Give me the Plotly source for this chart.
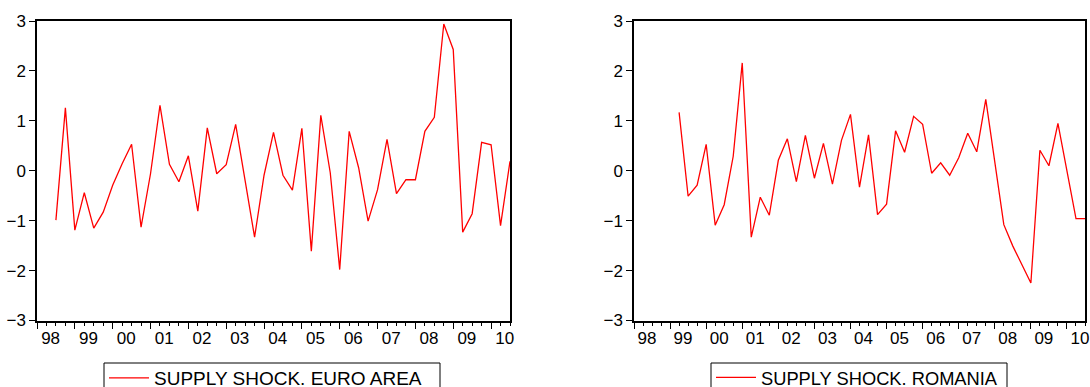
import plotly.graph_objects as go

# ---- data (quarterly) ----
euro_start = "1998Q3"
euro_values = [-0.99, 1.26, -1.19, -0.44, -1.15, -0.83, -0.29, 0.14, 0.53, -1.13,
               -0.06, 1.31, 0.13, -0.22, 0.30, -0.81, 0.86, -0.06, 0.12, 0.93,
               -0.20, -1.33, -0.09, 0.77, -0.09, -0.39, 0.85, -1.61, 1.11, -0.04,
               -1.98, 0.79, 0.06, -1.01, -0.38, 0.63, -0.46, -0.18, -0.18, 0.79,
               1.07, 2.94, 2.43, -1.23, -0.86, 0.57, 0.52, -1.10, 0.19]

romania_start = "1999Q2"
romania_values = [1.17, -0.51, -0.29, 0.53, -1.09, -0.68, 0.29, 2.16, -1.33, -0.53,
                  -0.89, 0.21, 0.64, -0.22, 0.71, -0.15, 0.55, -0.27, 0.61, 1.13,
                  -0.33, 0.72, -0.88, -0.67, 0.80, 0.37, 1.09, 0.93, -0.05, 0.16,
                  -0.09, 0.26, 0.75, 0.38, 1.43, 0.20, -1.08, -1.51, -1.88, -2.25,
                  0.41, 0.10, 0.95, -0.02, -0.96, -0.96]

years = list(range(1998, 2011))
year_labels = ["98", "99", "00", "01", "02", "03", "04", "05", "06", "07", "08", "09", "10"]
y_ticks = [-3, -2, -1, 0, 1, 2, 3]
euro_name = "SUPPLY SHOCK. EURO AREA"
romania_name = "SUPPLY SHOCK. ROMANIA"


def quarter_positions(start, n):
    y, q = int(start[:4]), int(start[-1])
    base = y + (q - 1) / 4
    return [base + i / 4 for i in range(n)]


euro_x = quarter_positions(euro_start, len(euro_values))
romania_x = quarter_positions(romania_start, len(romania_values))
quarters = [y + k / 4 for y in years for k in range(4) if y + k / 4 <= 2010.5]
X_RANGE = [1998, 2010.5]
LABEL_OFFSET = 0.36  # EViews-style label placement inside each year

W, H = 1090, 387
FONT = "Arial, Liberation Sans, sans-serif"
RED = "#ff0000"

fig = go.Figure()
fig.add_trace(go.Scatter(x=euro_x, y=euro_values, mode="lines", name=euro_name,
                         line=dict(color=RED, width=1.3), xaxis="x", yaxis="y",
                         legend="legend"))
fig.add_trace(go.Scatter(x=romania_x, y=romania_values, mode="lines", name=romania_name,
                         line=dict(color=RED, width=1.3), xaxis="x2", yaxis="y2",
                         legend="legend2"))
# invisible carriers so the label axes are drawn
fig.add_trace(go.Scatter(x=euro_x, y=euro_values, mode="lines", opacity=0,
                         showlegend=False, hoverinfo="skip", xaxis="x3", yaxis="y"))
fig.add_trace(go.Scatter(x=romania_x, y=romania_values, mode="lines", opacity=0,
                         showlegend=False, hoverinfo="skip", xaxis="x4", yaxis="y2"))

y_dom = [1 - 320.5 / H, 1 - 21 / H]
left_dom = [37 / W, 510 / W]
right_dom = [634 / W, 1085 / W]

tickfont = dict(family=FONT, size=17, color="black")


def tick_axis(domain, anchor):
    return dict(domain=domain, anchor=anchor, range=X_RANGE,
                tickmode="array", tickvals=years, showticklabels=False,
                ticks="outside", ticklen=7, tickwidth=1, tickcolor="black",
                minor=dict(tickmode="array", tickvals=quarters, ticks="outside",
                           ticklen=4, tickwidth=1, tickcolor="black"),
                showline=True, linecolor="black", linewidth=1.5, mirror=True,
                showgrid=False, zeroline=False, fixedrange=True)


def label_axis(over, anchor):
    return dict(overlaying=over, anchor=anchor, range=X_RANGE,
                tickmode="array", tickvals=[y + LABEL_OFFSET for y in years],
                ticktext=year_labels, ticks="outside", ticklen=2,
                tickcolor="rgba(0,0,0,0)", ticklabeloverflow="allow",
                tickfont=tickfont, showline=False, showgrid=False, zeroline=False,
                side="bottom", fixedrange=True)


def y_axis(anchor):
    return dict(domain=y_dom, anchor=anchor, range=[-3, 3], tickmode="array",
                tickvals=y_ticks, ticks="outside", ticklen=6, tickwidth=1,
                tickcolor="black", tickfont=tickfont, showline=True, linecolor="black",
                linewidth=1.5, mirror=True, showgrid=False, zeroline=False,
                fixedrange=True)


legend_common = dict(orientation="h", xanchor="left", yanchor="top",
                     borderwidth=0, bgcolor="rgba(0,0,0,0)", itemwidth=40)

box_top = 1 - 363 / H
legend_boxes = [
    dict(type="rect", xref="paper", yref="paper", x0=104 / W, x1=440 / W,
         y0=box_top, y1=-0.2, line=dict(color="black", width=1), layer="below"),
    dict(type="rect", xref="paper", yref="paper", x0=711 / W, x1=1007 / W,
         y0=box_top, y1=-0.2, line=dict(color="black", width=1), layer="below"),
]

fig.update_layout(
    width=W, height=H,
    margin=dict(l=0, r=0, t=0, b=0, autoexpand=False),
    paper_bgcolor="white", plot_bgcolor="white",
    xaxis=tick_axis(left_dom, "y"),
    xaxis2=tick_axis(right_dom, "y2"),
    xaxis3=label_axis("x", "y"),
    xaxis4=label_axis("x2", "y2"),
    yaxis=y_axis("x"),
    yaxis2=y_axis("x2"),
    legend=dict(x=104 / W, y=1 - 359 / H,
                font=dict(family=FONT, size=19, color="black"), **legend_common),
    legend2=dict(x=711 / W, y=1 - 359 / H,
                 font=dict(family=FONT, size=18.3, color="black"), **legend_common),
    shapes=legend_boxes,
    showlegend=True,
)

fig.write_html("out.html", config={"displayModeBar": False},
               post_script="document.body.style.margin='0';"
                           "document.body.style.overflow='hidden';")
